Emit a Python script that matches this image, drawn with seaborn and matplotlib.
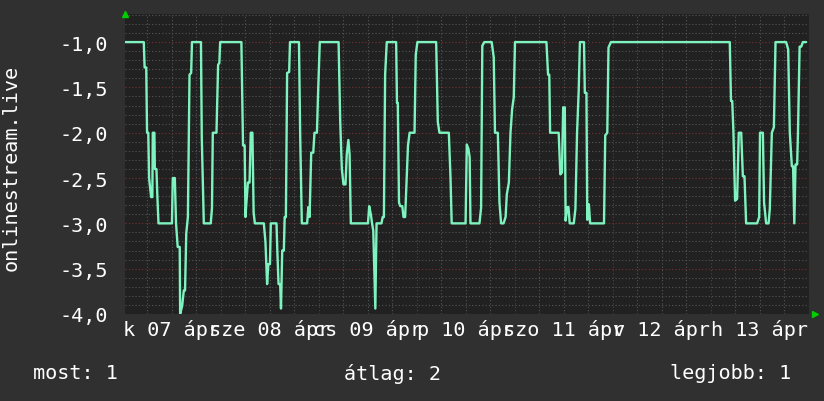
import pandas as pd
import matplotlib
matplotlib.use('Agg')
import matplotlib.pyplot as plt
import seaborn as sns

# Stunden seit 07. április 00:00 und Messwerte
hours = [0.4, 5.1, 5.3, 5.7, 5.9, 6.2, 6.4, 6.9, 7.2, 7.3, 7.7, 7.8, 8.2, 8.4, 8.7, 9.8, 11.0,
         12.0, 12.2, 12.7, 13.0, 13.4, 13.9, 14.0, 14.5, 14.9, 15.2, 15.5, 15.9, 16.3, 16.7, 16.9,
         19.1, 19.3, 19.8, 21.5, 21.8, 22.0, 22.9, 23.3, 23.6, 23.8, 29.0, 29.4, 29.8, 30.0, 30.2,
         30.6, 31.0, 31.3, 31.7, 32.0, 32.3, 34.3,
         34.5, 34.9, 35.3, 35.6, 36.0, 36.2, 37.6, 37.8, 38.1, 38.5, 38.7, 39.0, 39.4, 39.6, 39.9,
         40.2, 40.7, 40.9, 43.1, 43.4, 43.8, 45.1, 45.4, 45.7, 46.1, 46.6, 46.9, 47.5, 47.8, 48.2,
         52.8, 53.2, 53.6, 54.0, 54.5, 54.8, 55.2, 55.5, 55.8, 60.0, 60.3, 60.7, 61.0, 61.3, 61.8,
         62.1, 63.3, 63.6, 63.9, 64.2, 64.6, 66.9,
         67.1, 67.3, 67.6, 67.9, 68.4, 68.7, 69.1, 69.4, 69.8, 70.2, 71.4, 71.7, 72.1, 76.7, 77.1,
         77.5, 79.8, 80.2, 80.5, 83.9, 84.2, 84.6, 84.9, 85.1, 87.3, 87.7, 88.0, 88.5, 90.3, 90.8,
         91.1, 91.8, 92.2, 92.6, 93.2, 93.7, 94.0, 94.5, 94.9, 95.3, 95.7, 96.0, 100.4,
         103.7, 104.1, 104.4, 104.6, 106.7, 107.1, 107.5, 107.8, 108.2, 108.4, 108.8, 109.1, 109.4,
         110.4, 110.8, 111.2, 111.6, 111.9, 112.9, 113.1, 113.5, 113.7, 114.1, 114.4, 117.8, 118.1,
         118.6, 118.9, 119.5,
         148.6, 148.9, 149.2, 149.5, 149.9, 150.4, 150.8, 151.4, 151.8, 152.2, 152.6, 155.3, 155.8,
         156.0, 156.7, 157.0, 157.5, 158.1, 158.4, 158.9, 159.4, 159.8, 162.4, 162.9, 163.3, 163.8,
         164.1, 164.4, 164.7, 165.1, 165.3, 165.7, 166.1, 166.5, 167.3]
values = [-1.0, -1.0, -1.28, -1.28, -2.0, -2.0, -2.5, -2.71, -2.71, -2.0, -2.0, -2.4, -2.4, -2.67, -3.0, -3.0, -3.0,
          -3.0, -2.5, -2.5, -3.0, -3.26, -3.26, -4.0, -3.91, -3.74, -3.74, -3.11, -2.93, -1.36, -1.34, -1.0,
          -1.0, -2.05, -3.0, -3.0, -2.83, -2.0, -2.0, -1.25, -1.23, -1.0, -1.0, -2.14, -2.14, -2.93, -2.79,
          -2.55, -2.55, -2.0, -2.0, -2.88, -3.0, -3.0,
          -3.0, -3.21, -3.67, -3.45, -3.45, -3.0, -3.0, -3.3, -3.67, -3.67, -3.94, -3.3, -3.3, -2.93, -2.93,
          -1.34, -1.33, -1.0, -1.0, -2.03, -3.0, -3.0, -2.82, -2.93, -2.22, -2.22, -2.0, -2.0, -1.54, -1.0,
          -1.0, -1.87, -2.4, -2.57, -2.57, -2.24, -2.08, -2.24, -3.0, -3.0, -2.81, -2.9, -3.0, -3.08, -3.94,
          -3.0, -3.0, -2.93, -2.93, -1.36, -1.0, -1.0,
          -1.67, -1.67, -2.77, -2.81, -2.81, -2.93, -2.93, -2.59, -2.14, -2.0, -2.0, -1.14, -1.0, -1.0, -1.88,
          -2.0, -2.0, -2.48, -3.0, -3.0, -2.13, -2.18, -2.27, -3.0, -3.0, -2.83, -1.04, -1.0, -1.0, -1.17,
          -2.0, -2.0, -2.77, -3.0, -3.0, -2.93, -2.68, -2.55, -2.0, -1.74, -1.61, -1.0, -1.0,
          -1.0, -1.36, -1.36, -2.0, -2.0, -2.46, -2.44, -1.72, -1.72, -2.97, -2.82, -2.82, -3.0,
          -3.0, -2.84, -2.0, -1.54, -1.0, -1.0, -1.56, -1.56, -2.96, -2.79, -3.0, -3.0, -2.03,
          -2.0, -1.06, -1.0,
          -1.0, -1.65, -1.65, -2.0, -2.75, -2.73, -2.0, -2.0, -2.48, -2.48, -3.0, -3.0, -2.93,
          -2.0, -2.0, -2.77, -3.0, -3.0, -2.84, -2.0, -1.94, -1.0, -1.0, -1.08, -2.0, -2.37,
          -2.37, -3.0, -2.35, -2.35, -2.0, -1.05, -1.05, -1.0, -1.0]

day_labels = ['k 07 ápr', 'sze 08 ápr', 'cs 09 ápr', 'p 10 ápr', 'szo 11 ápr', 'v 12 ápr', 'h 13 ápr']
y_ticks = [-1.0, -1.5, -2.0, -2.5, -3.0, -3.5, -4.0]
legend_items = ['most: 1', 'átlag: 2', 'legjobb: 1']

df = pd.DataFrame({'hour': hours, 'value': values})

bg = '#303030'
plot_bg = '#212121'
sns.set_style('dark', {'axes.facecolor': plot_bg, 'figure.facecolor': bg})
plt.rcParams['font.family'] = ['DejaVu Sans Mono']

fig = plt.figure(figsize=(8.24, 4.02), dpi=100)
ax = fig.add_axes([125 / 824, 87 / 402, 684 / 824, 300 / 402])

# Gitter: grau alle 6 h / 0,1, rot an Tagesgrenzen / 0,5
for h in range(6, 168, 6):
    col = '#7a3030' if h % 24 == 0 else '#555555'
    ax.axvline(h, color=col, lw=0.8, ls=(0, (1, 2)), zorder=0)
for k in range(1, 34):
    v = -4.0 + k * 0.1
    major = abs((v * 2) - round(v * 2)) < 1e-6
    ax.axhline(v, color='#7a3030' if major else '#555555', lw=0.8, ls=(0, (1, 2)), zorder=0)

sns.lineplot(data=df, x='hour', y='value', ax=ax, color='#7ff3bf', lw=1.7,
             estimator=None, sort=False, zorder=3)

ax.set_xlim(0.5, 168)
ax.set_ylim(-4.0, -0.69)
ax.set_xticks([])
ax.set_yticks(y_ticks)
ax.set_yticklabels([f'{t:.1f}'.replace('.', ',') for t in y_ticks], color='white', fontsize=14.5)
ax.tick_params(axis='y', length=0, pad=12)
ax.set_xlabel('')
ax.set_ylabel('onlinestream.live', color='white', fontsize=14.5)
ax.yaxis.set_label_coords(-0.153, 0.49)
for s in ax.spines.values():
    s.set_visible(False)

# Tageslabels, zentriert auf Mittag
for i, lab in enumerate(day_labels):
    ax.text(12 + 24 * i, -4.0 - 0.165, lab, ha='center', va='center', color='white', fontsize=14.5)

# Pfeile
ax.plot([0.5], [-0.69], marker='^', color='#00cc00', ms=5, clip_on=False)
ax.plot([169.5], [-4.0], marker='>', color='#00cc00', ms=5, clip_on=False)

fig.text(33 / 824, 1 - 374 / 402, legend_items[0], ha='left', va='center', color='white', fontsize=14.5)
fig.text(393 / 824, 1 - 374 / 402, legend_items[1], ha='center', va='center', color='white', fontsize=14.5)
fig.text(791 / 824, 1 - 374 / 402, legend_items[2], ha='right', va='center', color='white', fontsize=14.5)

plt.savefig('out.png', dpi=100, facecolor=bg)
plt.close()
